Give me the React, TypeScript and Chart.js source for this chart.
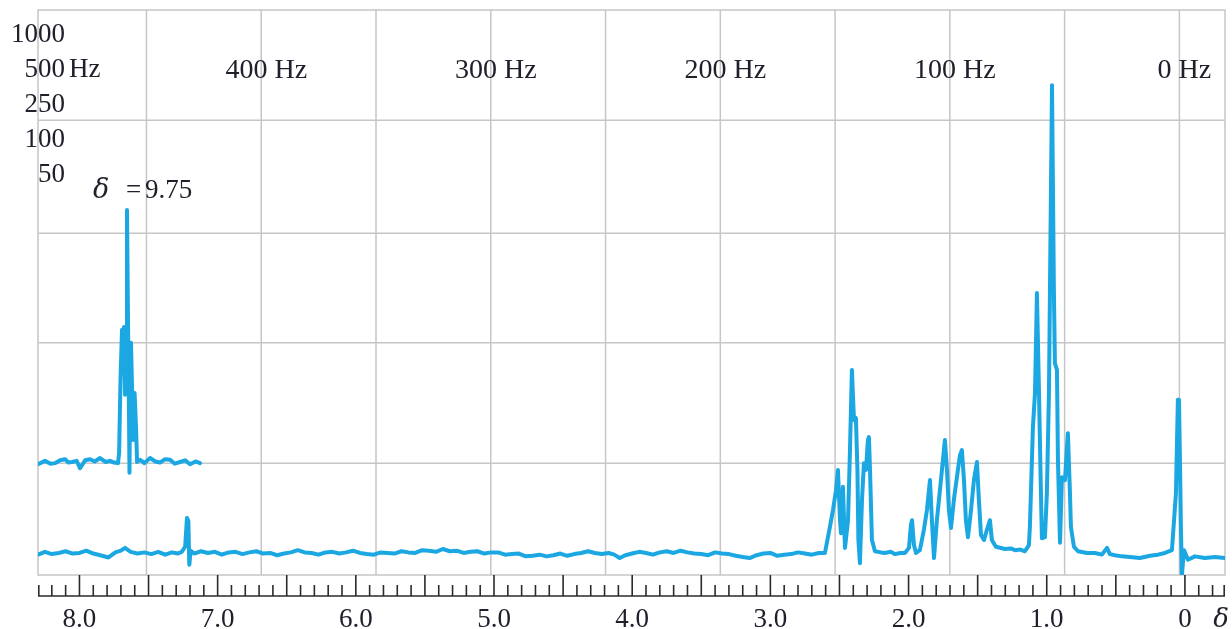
import { useEffect, useRef } from "react";
import { Chart, registerables } from "chart.js";

Chart.register(...registerables);

const SERIF = '"Liberation Serif", "Times New Roman", serif';
const GREEK = '"DejaVu Serif", "Liberation Serif", serif';
const LINE_COLOR = "rgb(27,167,226)";
const INK = "#20202c";
const GRID_COLOR = "#c6c6c6";

// chemical-shift axis (ppm, reversed)
const X_MIN = -0.29;
const X_MAX = 8.3;
// 0 Hz is referenced to the TMS peak, spectrometer ~60 MHz
const TMS_SHIFT = 0.04;
const SPECTROMETER_MHZ = 60.2;

const hzGridLines = [0, 50, 100, 150, 200, 250, 300, 350, 400, 450];
const hzLabels = [0, 100, 200, 300, 400];
const shiftLabels = [8, 7, 6, 5, 4, 3, 2, 1, 0];
const intensityGrid = [19.8, 41.1, 60.5, 80.5];
const sweepWidths = ["1000", "500", "250", "100", "50"];

// main spectrum: [shift ppm, intensity]
const mainTrace: [number, number][] = [
  [8.3, 3.6], [8.25, 4.1], [8.2, 3.7], [8.15, 3.9], [8.1, 4.2], [8.05, 3.8], [8.0, 3.9], [7.95, 4.3],
  [7.9, 3.8], [7.85, 3.5], [7.79, 3.1], [7.74, 4.0], [7.7, 4.3], [7.67, 4.8], [7.63, 4.1], [7.58, 3.8],
  [7.53, 4.0], [7.48, 3.7], [7.43, 4.1], [7.38, 3.6], [7.33, 4.0], [7.29, 3.8], [7.26, 4.1], [7.235, 5.0],
  [7.222, 10.1], [7.212, 9.6], [7.205, 1.8], [7.195, 4.3], [7.17, 3.8], [7.12, 4.2], [7.07, 3.9], [7.02, 4.1],
  [6.97, 3.6], [6.92, 4.0], [6.87, 4.1], [6.82, 3.7], [6.77, 4.0], [6.72, 4.2], [6.67, 3.8], [6.62, 3.9],
  [6.57, 3.5], [6.52, 3.8], [6.47, 4.0], [6.42, 4.4], [6.37, 4.0], [6.32, 3.9], [6.27, 3.6], [6.22, 4.0],
  [6.17, 4.1], [6.12, 3.8], [6.07, 4.0], [6.02, 4.3], [5.97, 3.9], [5.92, 3.7], [5.87, 3.6], [5.82, 4.0],
  [5.77, 3.9], [5.72, 3.8], [5.67, 4.2], [5.62, 4.0], [5.57, 3.9], [5.52, 4.4], [5.47, 4.3], [5.42, 4.1],
  [5.37, 4.6], [5.32, 4.2], [5.27, 4.3], [5.22, 3.9], [5.17, 4.1], [5.12, 4.2], [5.07, 3.8], [5.02, 4.0],
  [4.97, 4.0], [4.92, 3.6], [4.87, 3.7], [4.82, 3.8], [4.77, 3.3], [4.72, 3.4], [4.67, 3.6], [4.62, 3.3],
  [4.57, 3.5], [4.52, 3.8], [4.47, 3.4], [4.42, 3.7], [4.37, 3.9], [4.32, 4.2], [4.27, 3.9], [4.22, 3.7],
  [4.17, 3.9], [4.13, 3.6], [4.09, 3.0], [4.05, 3.5], [4.0, 3.8], [3.95, 4.1], [3.9, 3.9], [3.85, 3.6],
  [3.8, 4.0], [3.75, 4.2], [3.7, 3.9], [3.65, 4.3], [3.6, 4.0], [3.55, 3.8], [3.5, 3.7], [3.45, 3.5],
  [3.4, 4.0], [3.35, 3.8], [3.3, 3.7], [3.25, 3.4], [3.2, 3.2], [3.15, 3.0], [3.1, 3.5], [3.05, 3.8],
  [3.0, 3.9], [2.95, 3.4], [2.9, 3.6], [2.85, 3.7], [2.8, 4.0], [2.75, 3.8], [2.7, 3.6], [2.65, 3.9],
  [2.605, 3.9], [2.569, 8.5], [2.547, 11.5], [2.525, 15.0], [2.511, 18.6], [2.496, 9.7], [2.489, 7.4],
  [2.475, 15.6], [2.46, 4.8], [2.438, 9.7], [2.424, 22.1], [2.41, 36.3], [2.395, 27.4], [2.381, 27.8],
  [2.37, 18.6], [2.363, 6.2], [2.352, 2.1], [2.337, 13.3], [2.323, 19.8], [2.308, 18.6], [2.294, 23.9],
  [2.287, 24.4], [2.279, 18.6], [2.265, 6.2], [2.243, 4.2], [2.2, 4.0], [2.171, 3.9], [2.13, 4.1],
  [2.098, 3.7], [2.06, 3.9], [2.026, 3.9], [1.997, 4.8], [1.983, 8.8], [1.975, 9.7], [1.961, 5.3],
  [1.946, 3.9], [1.918, 4.4], [1.889, 8.0], [1.867, 11.5], [1.845, 16.8], [1.831, 9.7], [1.816, 3.0],
  [1.795, 9.7], [1.773, 15.0], [1.751, 20.4], [1.737, 23.9], [1.722, 18.6], [1.708, 11.5], [1.693, 8.3],
  [1.672, 13.3], [1.643, 18.6], [1.628, 21.2], [1.614, 22.1], [1.599, 16.8], [1.585, 9.7], [1.57, 6.7],
  [1.548, 11.5], [1.527, 16.8], [1.505, 20.0], [1.491, 13.3], [1.476, 7.1], [1.454, 6.2], [1.433, 8.0],
  [1.411, 9.7], [1.397, 6.2], [1.368, 5.0], [1.302, 4.6], [1.26, 4.7], [1.23, 4.4], [1.19, 4.5],
  [1.158, 4.2], [1.129, 5.3], [1.122, 8.5], [1.1, 26.2], [1.085, 32.2], [1.071, 49.9], [1.056, 32.2],
  [1.042, 14.5], [1.035, 6.5], [1.013, 6.7], [0.999, 14.5], [0.984, 32.2], [0.977, 49.9], [0.962, 86.7],
  [0.948, 49.9], [0.941, 37.5], [0.926, 36.3], [0.919, 20.4], [0.904, 5.7], [0.89, 17.3], [0.868, 16.8],
  [0.847, 25.1], [0.832, 14.5], [0.825, 8.5], [0.803, 5.0], [0.774, 4.2], [0.709, 3.9], [0.651, 3.9],
  [0.601, 3.6], [0.564, 4.8], [0.543, 3.7], [0.507, 3.5], [0.456, 3.3], [0.398, 3.2], [0.326, 3.0],
  [0.253, 3.4], [0.195, 3.6], [0.145, 3.9], [0.094, 4.4], [0.065, 14.5], [0.051, 31.0], [0.043, 31.0],
  [0.036, 20.4], [0.029, 8.5], [0.022, 0.0], [0.007, 4.4], [-0.022, 2.7], [-0.072, 3.3], [-0.145, 3.0],
  [-0.217, 3.2], [-0.289, 3.0],
];

// offset trace (aldehyde region, δ = 9.75), drawn raised
const insetTrace: [number, number][] = [
  [8.3, 19.6], [8.249, 20.2], [8.21, 19.7], [8.177, 19.8], [8.14, 20.3], [8.104, 20.5], [8.08, 19.9],
  [8.054, 20.0], [8.02, 20.2], [7.996, 18.9], [7.959, 20.3], [7.923, 20.5], [7.89, 20.1], [7.851, 20.7],
  [7.81, 20.0], [7.778, 20.2], [7.75, 19.9], [7.721, 19.8], [7.713, 21.6], [7.703, 34.5], [7.692, 43.4],
  [7.685, 38.1], [7.678, 43.9], [7.67, 31.9], [7.663, 43.4], [7.656, 64.6], [7.648, 43.4], [7.641, 27.3],
  [7.638, 18.1], [7.634, 31.0], [7.627, 41.1], [7.619, 32.7], [7.612, 23.9], [7.601, 32.2], [7.59, 25.7],
  [7.583, 20.0], [7.561, 20.4], [7.53, 19.8], [7.489, 20.7], [7.45, 20.1], [7.417, 19.9], [7.38, 20.5],
  [7.344, 20.4], [7.31, 19.7], [7.272, 20.0], [7.235, 20.3], [7.2, 19.6], [7.16, 20.1], [7.127, 19.8],
];

const decorPlugin = {
  id: "nmrDecor",
  beforeDatasetsDraw(chart: any) {
    const { ctx, chartArea: a, scales } = chart;
    const x = scales.x;
    const y = scales.y;
    ctx.save();
    ctx.strokeStyle = GRID_COLOR;
    ctx.lineWidth = 1.5;
    ctx.beginPath();
    for (const hz of hzGridLines) {
      const px = x.getPixelForValue(TMS_SHIFT + hz / SPECTROMETER_MHZ);
      if (px < a.left || px > a.right) continue;
      ctx.moveTo(px, a.top);
      ctx.lineTo(px, a.bottom);
    }
    for (const v of intensityGrid) {
      const py = y.getPixelForValue(v);
      ctx.moveTo(a.left, py);
      ctx.lineTo(a.right, py);
    }
    ctx.stroke();
    ctx.strokeRect(a.left, a.top, a.right - a.left, a.bottom - a.top);
    ctx.restore();
  },
  afterDraw(chart: any) {
    const { ctx, chartArea: a, scales } = chart;
    const x = scales.x;
    ctx.save();

    // shift ruler under the plot
    const rulerY = a.bottom + 21;
    ctx.strokeStyle = "#2b2b2b";
    ctx.lineWidth = 1.6;
    ctx.beginPath();
    ctx.moveTo(a.left, rulerY);
    ctx.lineTo(a.right, rulerY);
    for (let i = -3; i <= 83; i++) {
      let px = x.getPixelForValue(i / 10);
      px = Math.min(Math.max(px, a.left + 0.8), a.right - 0.8);
      const major = i % 5 === 0;
      ctx.moveTo(px, major ? a.bottom : a.bottom + 10);
      ctx.lineTo(px, rulerY);
    }
    ctx.stroke();

    ctx.fillStyle = INK;
    ctx.textBaseline = "alphabetic";

    // shift labels
    ctx.font = `27px ${SERIF}`;
    ctx.textAlign = "center";
    for (const v of shiftLabels) {
      const px = x.getPixelForValue(v);
      ctx.fillText(v === 0 ? "0" : v.toFixed(1), px, a.bottom + 52);
    }
    ctx.font = `italic 26px ${GREEK}`;
    ctx.fillText("δ", a.right - 4, a.bottom + 52);

    // Hz labels
    ctx.font = `28px ${SERIF}`;
    ctx.textAlign = "center";
    for (const hz of hzLabels) {
      const px = x.getPixelForValue(TMS_SHIFT + hz / SPECTROMETER_MHZ);
      ctx.fillText(`${hz} Hz`, px + 5, a.top + 68);
    }

    // sweep widths column
    ctx.font = `27px ${SERIF}`;
    sweepWidths.forEach((s, i) => {
      const by = a.top + 32 + i * 35;
      ctx.textAlign = "right";
      ctx.fillText(s, 65, by);
      if (s === "500") {
        ctx.textAlign = "left";
        ctx.fillText("Hz", 69, by);
      }
    });

    // δ = 9.75 annotation
    ctx.textAlign = "left";
    ctx.font = `italic 27px ${GREEK}`;
    ctx.fillText("δ", 93, 198);
    ctx.font = `27px ${SERIF}`;
    ctx.textAlign = "center";
    ctx.fillText("=", 133.5, 198);
    ctx.textAlign = "left";
    ctx.fillText("9.75", 145, 198);

    ctx.restore();
  },
};

export default function App() {
  const canvasRef = useRef<HTMLCanvasElement | null>(null);

  useEffect(() => {
    const prevMargin = document.body.style.margin;
    document.body.style.margin = "0";
    const canvas = canvasRef.current;
    if (!canvas) return;
    const chart = new Chart(canvas, {
      type: "line",
      data: {
        datasets: [
          {
            label: "spectrum",
            data: mainTrace.map(([s, v]) => ({ x: s, y: v })),
            borderColor: LINE_COLOR,
            borderWidth: 4,
            pointRadius: 0,
            tension: 0,
            fill: false,
            borderJoinStyle: "round",
            borderCapStyle: "round",
          },
          {
            label: "offset",
            data: insetTrace.map(([s, v]) => ({ x: s, y: v })),
            borderColor: LINE_COLOR,
            borderWidth: 4,
            pointRadius: 0,
            tension: 0,
            fill: false,
            borderJoinStyle: "round",
            borderCapStyle: "round",
          },
        ],
      },
      options: {
        animation: false,
        responsive: true,
        maintainAspectRatio: false,
        parsing: false as any,
        layout: { padding: { left: 38, right: 7, top: 10, bottom: 54 } },
        scales: {
          x: { type: "linear", reverse: true, min: X_MIN, max: X_MAX, display: false },
          y: { type: "linear", min: 0, max: 100, display: false },
        },
        plugins: {
          legend: { display: false },
          tooltip: { enabled: false },
        },
        events: [],
      },
      plugins: [decorPlugin],
    });
    return () => {
      chart.destroy();
      document.body.style.margin = prevMargin;
    };
  }, []);

  return (
    <div style={{ position: "absolute", left: 0, top: 0, width: 1232, height: 629, background: "#fff" }}>
      <canvas ref={canvasRef} />
    </div>
  );
}
